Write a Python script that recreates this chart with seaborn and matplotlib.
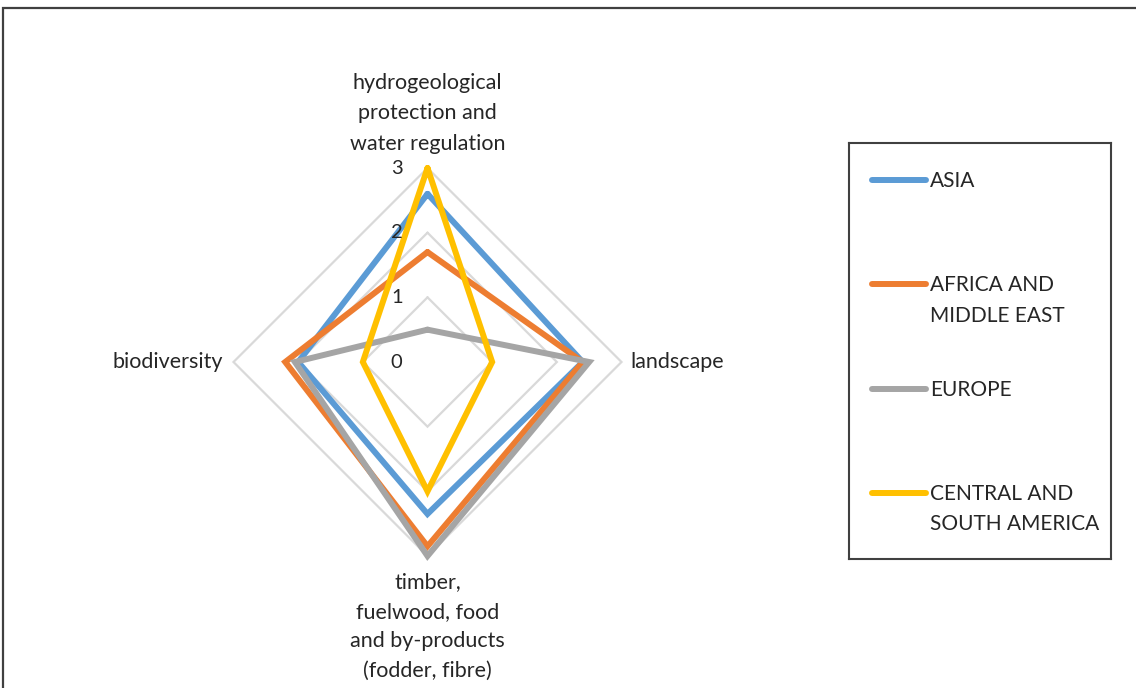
import numpy as np
import pandas as pd
import matplotlib
matplotlib.use("Agg")
import matplotlib.pyplot as plt
import matplotlib.patches as mpatches
import seaborn as sns

# data
categories = [
    "hydrogeological\nprotection and\nwater regulation",
    "landscape",
    "timber,\nfuelwood, food\nand by-products\n(fodder, fibre)",
    "biodiversity",
]
regions = ["ASIA", "AFRICA AND\nMIDDLE EAST", "EUROPE", "CENTRAL AND\nSOUTH AMERICA"]
asia = [2.6, 2.4, 2.35, 2.0]
africa = [1.7, 2.4, 2.85, 2.2]
europe = [0.5, 2.5, 3.0, 2.05]
central_south = [3.0, 1.0, 2.0, 1.0]
grid_levels = [1, 2, 3]
colors = ["#5B9BD5", "#ED7D31", "#A5A5A5", "#FFC000"]

sns.set_theme(style="white")
plt.rcParams["font.family"] = ["Lato", "DejaVu Sans"]
FS = 15.5
TXT = "#262626"

# long table, loop closed by repeating the first category
angles = np.linspace(0, 2 * np.pi, len(categories), endpoint=False)
theta = np.append(angles, 2 * np.pi)
rows = []
for name, vals in zip(regions, [asia, africa, europe, central_south]):
    for t, v in zip(theta, vals + vals[:1]):
        rows.append({"theta": t, "value": v, "region": name})
df = pd.DataFrame(rows)

W, H = 1136, 688
fig = plt.figure(figsize=(W / 100, H / 100), dpi=100)
cx, cy, rad = 427.5, 362, 194
ax = fig.add_axes([(cx - rad) / W, (H - cy - rad) / H, 2 * rad / W, 2 * rad / H],
                  projection="polar")
ax.set_theta_zero_location("N")
ax.set_theta_direction(-1)

# diamond gridlines
for g in grid_levels:
    ax.plot(theta, [g] * len(theta), color="#D9D9D9", lw=1.6, zorder=1, clip_on=False)

sns.lineplot(data=df, x="theta", y="value", hue="region", hue_order=regions,
             palette=colors, sort=False, estimator=None, linewidth=4.3,
             legend=False, ax=ax, zorder=3)
for ln in ax.lines:
    ln.set_clip_on(False)
    ln.set_solid_joinstyle("miter")

ax.set_ylim(0, 3)
ax.set_xticks([])
ax.set_yticks([])
ax.set_xlabel("")
ax.set_ylabel("")
ax.spines["polar"].set_visible(False)
ax.set_facecolor("none")
ax.grid(False)

# radial value labels
for v in [0] + grid_levels:
    ax.annotate(str(v), xy=(0, v), xytext=(-25, 0), textcoords="offset pixels",
                ha="right", va="center", fontsize=14.5, color=TXT)

# category labels
offsets = [((0, 14), "center", "bottom", 1.66), ((9, 0), "left", "center", 1.6),
           ((0, -16), "center", "top", 1.6), ((-11, 0), "right", "center", 1.6)]
for ang, lab, (off, ha, va, ls) in zip(angles, categories, offsets):
    ax.annotate(lab, xy=(ang, 3), xytext=off, textcoords="offset pixels",
                ha=ha, va=va, multialignment="center", fontsize=FS,
                color=TXT, linespacing=ls, annotation_clip=False)

# legend box drawn by hand (Excel-style slots)
lx0, ly0, lx1, ly1 = 849, 143, 1111, 559
lax = fig.add_axes([lx0 / W, (H - ly1) / H, (lx1 - lx0) / W, (ly1 - ly0) / H])
lax.set_xlim(0, lx1 - lx0)
lax.set_ylim(ly1 - ly0, 0)
lax.set_xticks([])
lax.set_yticks([])
for s in lax.spines.values():
    s.set_color("#404040")
    s.set_linewidth(1.5)
for i, (name, c) in enumerate(zip(regions, colors)):
    yc = 37 + i * 104.3
    lax.plot([23, 77], [yc, yc], color=c, lw=4.3, solid_capstyle="round")
    lax.text(81, yc - 9, name, ha="left", va="top", fontsize=15, color=TXT,
             linespacing=1.64)

# outer chart frame (top and left edges visible)
fig.add_artist(mpatches.Rectangle((3 / W, -0.1), 1.2, 1.1 - 8 / H,
                                  transform=fig.transFigure, fill=False,
                                  edgecolor="#404040", lw=1.6, clip_on=False))

fig.savefig("out.png", dpi=100)
